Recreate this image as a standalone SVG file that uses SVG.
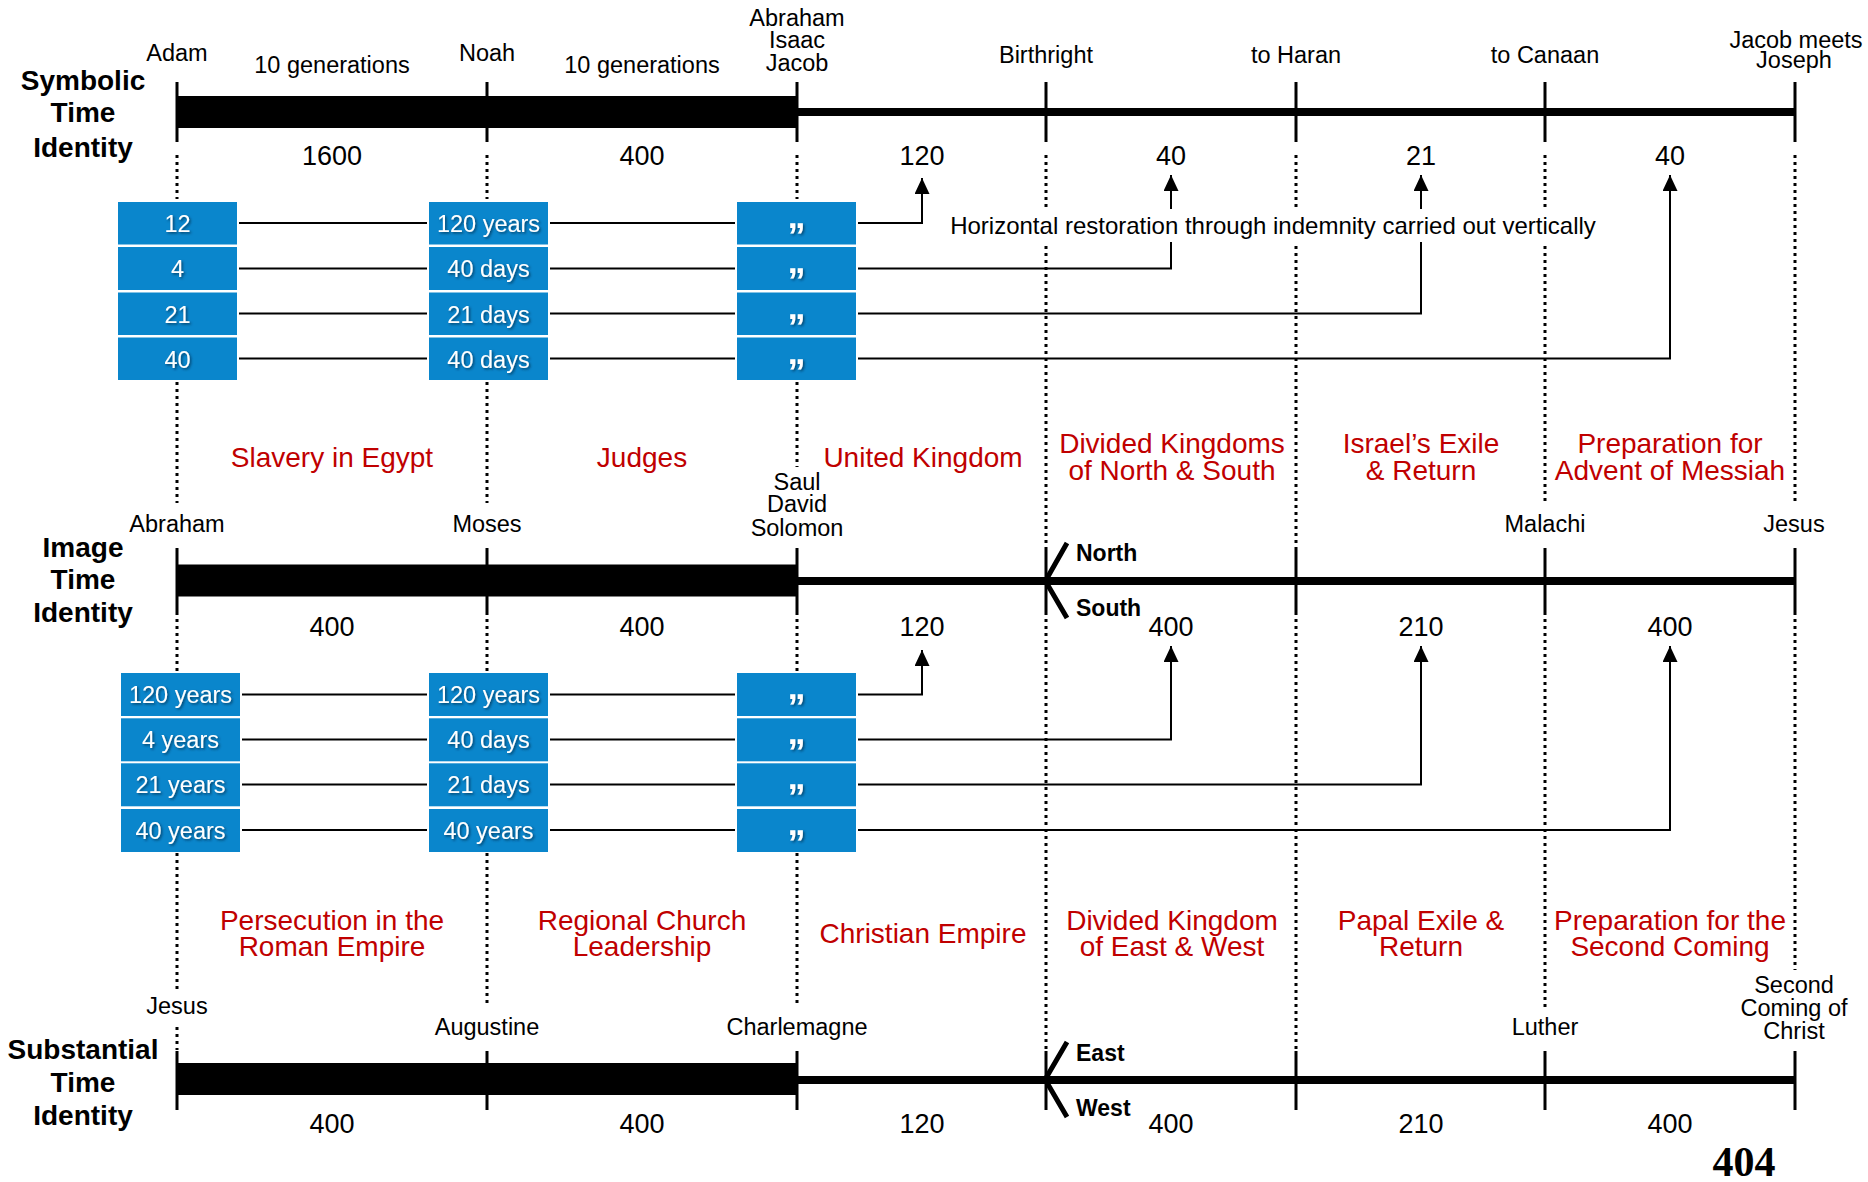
<svg xmlns="http://www.w3.org/2000/svg" width="1868" height="1182" viewBox="0 0 1868 1182">
<style>
text{font-family:"Liberation Sans",Arial,sans-serif;text-anchor:middle;fill:#000}
.lbl{font-size:23.5px}
.num{font-size:27px}
.ttl{font-size:28px;font-weight:bold}
.red{font-size:28px;fill:#c00000}
.bx{font-size:23.5px;fill:#fff;filter:url(#sh)}
.dt{font-size:36px;font-weight:bold;fill:#fff;filter:url(#sh)}
.dir{font-size:23px;font-weight:bold;text-anchor:start}
.pg{font-family:"Liberation Serif","Times New Roman",serif;font-size:42px;font-weight:bold}
.dot{stroke:#000;stroke-width:3;stroke-dasharray:3 4;fill:none}
.tick{stroke:#000;stroke-width:3}
.k{stroke:#000;stroke-width:5;fill:none}
.box{fill:#0a86cc}
.con{stroke:#000;stroke-width:2;fill:none}
.arr{stroke:#000;stroke-width:2;fill:none;marker-end:url(#ah)}
</style>
<defs>
<filter id="sh" x="-20%" y="-20%" width="140%" height="150%">
<feDropShadow dx="1.5" dy="1.5" stdDeviation="0.8" flood-color="#002a44" flood-opacity="0.7"/>
</filter>
<marker id="ah" markerUnits="userSpaceOnUse" markerWidth="16" markerHeight="15" refX="16" refY="7.5" orient="auto">
<path d="M0,0 L16,7.5 L0,15 z" fill="#000"/>
</marker>
</defs>
<rect width="1868" height="1182" fill="#fff"/>

<g id="dotted-guides">
<path class="dot" d="M177,155V199M177,382V503M177,612V671M177,853V989M177,1027V1050"/>
<path class="dot" d="M487,155V199M487,382V503M487,612V671M487,853V1007"/>
<path class="dot" d="M797,155V199M797,382V467M797,612V671M797,853V1007"/>
<path class="dot" d="M1046,155V548M1046,612V1050"/>
<path class="dot" d="M1296,155V548M1296,612V1050"/>
<path class="dot" d="M1545,155V503M1545,612V1007"/>
<path class="dot" d="M1795,155V503M1795,612V970"/>
</g>

<g id="timeline-symbolic">
<rect x="177" y="96" width="620" height="32" fill="#000"/>
<rect x="797" y="108" width="998" height="8" fill="#000"/>
<path class="tick" d="M177,82V142M487,82V142M797,82V142M1046,82V142M1296,82V142M1545,82V142M1795,82V142"/>
<text class="ttl" x="83" y="90">Symbolic</text>
<text class="ttl" x="83" y="122">Time</text>
<text class="ttl" x="83" y="157">Identity</text>
<text class="lbl" x="177" y="61">Adam</text>
<text class="lbl" x="332" y="73">10 generations</text>
<text class="lbl" x="487" y="61">Noah</text>
<text class="lbl" x="642" y="73">10 generations</text>
<text class="lbl" x="797" y="26">Abraham</text>
<text class="lbl" x="797" y="48">Isaac</text>
<text class="lbl" x="797" y="71">Jacob</text>
<text class="lbl" x="1046" y="63">Birthright</text>
<text class="lbl" x="1296" y="63">to Haran</text>
<text class="lbl" x="1545" y="63">to Canaan</text>
<text class="lbl" x="1796" y="48">Jacob meets</text>
<text class="lbl" x="1794" y="68">Joseph</text>
<text class="num" x="332" y="165">1600</text>
<text class="num" x="642" y="165">400</text>
<text class="num" x="922" y="165">120</text>
<text class="num" x="1171" y="165">40</text>
<text class="num" x="1421" y="165">21</text>
<text class="num" x="1670" y="165">40</text>
</g>

<g id="timeline-image">
<rect x="177" y="564.5" width="620" height="32" fill="#000"/>
<rect x="797" y="577" width="998" height="8" fill="#000"/>
<path class="tick" d="M177,548V612M487,548V612M797,548V612M1046,548V612M1296,548V612M1545,548V612M1795,548V612"/>
<path class="k" d="M1046,580L1067,543M1046,582L1067,618"/>
<text class="ttl" x="83" y="557">Image</text>
<text class="ttl" x="83" y="589">Time</text>
<text class="ttl" x="83" y="622">Identity</text>
<text class="lbl" x="177" y="532">Abraham</text>
<text class="lbl" x="487" y="532">Moses</text>
<text class="lbl" x="797" y="490">Saul</text>
<text class="lbl" x="797" y="512">David</text>
<text class="lbl" x="797" y="536">Solomon</text>
<text class="lbl" x="1545" y="532">Malachi</text>
<text class="lbl" x="1794" y="532">Jesus</text>
<text class="dir" x="1076" y="561">North</text>
<text class="dir" x="1076" y="616">South</text>
<text class="num" x="332" y="636">400</text>
<text class="num" x="642" y="636">400</text>
<text class="num" x="922" y="636">120</text>
<text class="num" x="1171" y="636">400</text>
<text class="num" x="1421" y="636">210</text>
<text class="num" x="1670" y="636">400</text>
</g>

<g id="timeline-substantial">
<rect x="177" y="1063" width="620" height="32" fill="#000"/>
<rect x="797" y="1076" width="998" height="8" fill="#000"/>
<path class="tick" d="M177,1051V1110M487,1051V1110M797,1051V1110M1046,1051V1110M1296,1051V1110M1545,1051V1110M1795,1051V1110"/>
<path class="k" d="M1046,1078L1067,1042M1046,1081L1067,1117"/>
<text class="ttl" x="83" y="1059">Substantial</text>
<text class="ttl" x="83" y="1092">Time</text>
<text class="ttl" x="83" y="1125">Identity</text>
<text class="lbl" x="177" y="1014">Jesus</text>
<text class="lbl" x="487" y="1035">Augustine</text>
<text class="lbl" x="797" y="1035">Charlemagne</text>
<text class="lbl" x="1545" y="1035">Luther</text>
<text class="lbl" x="1794" y="993">Second</text>
<text class="lbl" x="1794" y="1016">Coming of</text>
<text class="lbl" x="1794" y="1039">Christ</text>
<text class="dir" x="1076" y="1061">East</text>
<text class="dir" x="1076" y="1116">West</text>
<text class="num" x="332" y="1133">400</text>
<text class="num" x="642" y="1133">400</text>
<text class="num" x="922" y="1133">120</text>
<text class="num" x="1171" y="1133">400</text>
<text class="num" x="1421" y="1133">210</text>
<text class="num" x="1670" y="1133">400</text>
</g>

<g id="connectors">
<path class="con" d="M239,223H427M550,223H735"/>
<path class="con" d="M239,268.5H427M550,268.5H735"/>
<path class="con" d="M239,313.5H427M550,313.5H735"/>
<path class="con" d="M239,358.5H427M550,358.5H735"/>
<path class="arr" d="M858,223H922V178"/>
<path class="arr" d="M858,268.5H1171V175"/>
<path class="arr" d="M858,313.5H1421V175"/>
<path class="arr" d="M858,358.5H1670V175"/>
<path class="con" d="M242,694.5H427M550,694.5H735"/>
<path class="con" d="M242,739.5H427M550,739.5H735"/>
<path class="con" d="M242,784.5H427M550,784.5H735"/>
<path class="con" d="M242,830H427M550,830H735"/>
<path class="arr" d="M858,694.5H922V650"/>
<path class="arr" d="M858,739.5H1171V646"/>
<path class="arr" d="M858,784.5H1421V646"/>
<path class="arr" d="M858,830H1670V646"/>
</g>

<g id="note-horizontal">
<rect x="944" y="209" width="658" height="33" fill="#fff"/>
<text class="lbl" x="1273" y="234" style="font-size:24px">Horizontal restoration through indemnity carried out vertically</text>
</g>

<g id="symbolic-boxes">
<g id="s-c1-r1"><rect class="box" x="118" y="202" width="119" height="42.5"/><text class="bx" x="177.5" y="232">12</text></g>
<g id="s-c1-r2"><rect class="box" x="118" y="247" width="119" height="43"/><text class="bx" x="177.5" y="277">4</text></g>
<g id="s-c1-r3"><rect class="box" x="118" y="292.5" width="119" height="42.5"/><text class="bx" x="177.5" y="322.5">21</text></g>
<g id="s-c1-r4"><rect class="box" x="118" y="337.5" width="119" height="42.5"/><text class="bx" x="177.5" y="367.5">40</text></g>
<g id="s-c2-r1"><rect class="box" x="429" y="202" width="119" height="42.5"/><text class="bx" x="488.5" y="232">120 years</text></g>
<g id="s-c2-r2"><rect class="box" x="429" y="247" width="119" height="43"/><text class="bx" x="488.5" y="277">40 days</text></g>
<g id="s-c2-r3"><rect class="box" x="429" y="292.5" width="119" height="42.5"/><text class="bx" x="488.5" y="322.5">21 days</text></g>
<g id="s-c2-r4"><rect class="box" x="429" y="337.5" width="119" height="42.5"/><text class="bx" x="488.5" y="367.5">40 days</text></g>
<g id="s-c3-r1"><rect class="box" x="737" y="202" width="119" height="42.5"/><text class="dt" x="796.5" y="228">„</text></g>
<g id="s-c3-r2"><rect class="box" x="737" y="247" width="119" height="43"/><text class="dt" x="796.5" y="273">„</text></g>
<g id="s-c3-r3"><rect class="box" x="737" y="292.5" width="119" height="42.5"/><text class="dt" x="796.5" y="318.5">„</text></g>
<g id="s-c3-r4"><rect class="box" x="737" y="337.5" width="119" height="42.5"/><text class="dt" x="796.5" y="363.5">„</text></g>
</g>

<g id="image-boxes">
<g id="i-c1-r1"><rect class="box" x="121" y="673" width="119" height="43"/><text class="bx" x="180.5" y="703">120 years</text></g>
<g id="i-c1-r2"><rect class="box" x="121" y="718.3" width="119" height="43"/><text class="bx" x="180.5" y="748.3">4 years</text></g>
<g id="i-c1-r3"><rect class="box" x="121" y="763.3" width="119" height="43"/><text class="bx" x="180.5" y="793.3">21 years</text></g>
<g id="i-c1-r4"><rect class="box" x="121" y="809" width="119" height="43"/><text class="bx" x="180.5" y="839">40 years</text></g>
<g id="i-c2-r1"><rect class="box" x="429" y="673" width="119" height="43"/><text class="bx" x="488.5" y="703">120 years</text></g>
<g id="i-c2-r2"><rect class="box" x="429" y="718.3" width="119" height="43"/><text class="bx" x="488.5" y="748.3">40 days</text></g>
<g id="i-c2-r3"><rect class="box" x="429" y="763.3" width="119" height="43"/><text class="bx" x="488.5" y="793.3">21 days</text></g>
<g id="i-c2-r4"><rect class="box" x="429" y="809" width="119" height="43"/><text class="bx" x="488.5" y="839">40 years</text></g>
<g id="i-c3-r1"><rect class="box" x="737" y="673" width="119" height="43"/><text class="dt" x="796.5" y="699">„</text></g>
<g id="i-c3-r2"><rect class="box" x="737" y="718.3" width="119" height="43"/><text class="dt" x="796.5" y="744.3">„</text></g>
<g id="i-c3-r3"><rect class="box" x="737" y="763.3" width="119" height="43"/><text class="dt" x="796.5" y="789.3">„</text></g>
<g id="i-c3-r4"><rect class="box" x="737" y="809" width="119" height="43"/><text class="dt" x="796.5" y="835">„</text></g>
</g>

<g id="eras-old-testament">
<text class="red" x="332" y="467">Slavery in Egypt</text>
<text class="red" x="642" y="467">Judges</text>
<text class="red" x="923" y="467">United Kingdom</text>
<text class="red" x="1172" y="453">Divided Kingdoms</text>
<text class="red" x="1172" y="480">of North &amp; South</text>
<text class="red" x="1421" y="453">Israel’s Exile</text>
<text class="red" x="1421" y="480">&amp; Return</text>
<text class="red" x="1670" y="453">Preparation for</text>
<text class="red" x="1670" y="480">Advent of Messiah</text>
</g>

<g id="eras-new-testament">
<text class="red" x="332" y="930">Persecution in the</text>
<text class="red" x="332" y="956">Roman Empire</text>
<text class="red" x="642" y="930">Regional Church</text>
<text class="red" x="642" y="956">Leadership</text>
<text class="red" x="923" y="943">Christian Empire</text>
<text class="red" x="1172" y="930">Divided Kingdom</text>
<text class="red" x="1172" y="956">of East &amp; West</text>
<text class="red" x="1421" y="930">Papal Exile &amp;</text>
<text class="red" x="1421" y="956">Return</text>
<text class="red" x="1670" y="930">Preparation for the</text>
<text class="red" x="1670" y="956">Second Coming</text>
</g>

<text class="pg" x="1744" y="1176">404</text>
</svg>
